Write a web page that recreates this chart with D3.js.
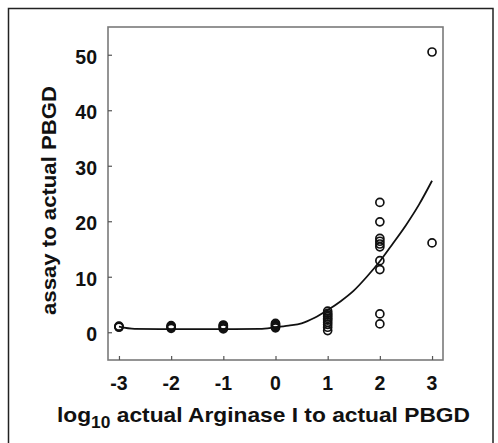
<!DOCTYPE html>
<html><head><meta charset="utf-8">
<script src="https://cdn.jsdelivr.net/npm/d3@7"></script>
<style>
html,body{margin:0;padding:0;background:#fff;}
text{font-family:"Liberation Sans",Arial,sans-serif;font-weight:bold;fill:#111;}
</style></head>
<body><svg id="c" width="498" height="443"></svg>
<script>
// tick values
const xTicks = [-3, -2, -1, 0, 1, 2, 3];
const yTicks = [0, 10, 20, 30, 40, 50];
// observed points: log10 ratio and assay/actual
const pointX = [-3, -3, -3,
  -2, -2, -2, -2,
  -1, -1, -1, -1, -1,
  0, 0, 0, 0, 0,
  1, 1, 1, 1, 1, 1, 1, 1, 1, 1,
  2, 2, 2, 2, 2, 2, 2, 2, 2, 2,
  3, 3];
const pointY = [0.9, 1.0, 1.1,
  0.7, 0.9, 1.0, 1.2,
  0.6, 0.8, 1.0, 1.2, 1.3,
  0.8, 1.0, 1.2, 1.4, 1.6,
  0.3, 0.9, 1.4, 1.8, 2.2, 2.5, 2.8, 3.1, 3.4, 3.8,
  23.4, 19.9, 16.9, 16.4, 15.9, 15.4, 12.9, 11.3, 3.3, 1.5,
  50.5, 16.1];
// fitted curve
const curveX = [-3, -2.7, -2, -1, -0.3, 0, 0.25, 0.5, 0.75, 1, 1.25, 1.5, 1.75, 2, 2.25, 2.5, 2.75, 3];
const curveY = [1.0, 0.6, 0.55, 0.55, 0.6, 0.9, 1.2, 1.6, 2.6, 4.0, 5.6, 7.5, 10.0, 12.8, 16.0, 19.3, 23.0, 27.3];

const svg = d3.select("#c");
const L = 108, T = 27, R = 443, B = 360;
const x = d3.scaleLinear().domain([-3.21, 3.21]).range([L, R]);
const y = d3.scaleLinear().domain([-5, 55]).range([B, T]);

// outer frame
svg.append("rect").attr("x", 8.5).attr("y", 8.5).attr("width", 484.5).attr("height", 460)
  .attr("fill", "none").attr("stroke", "#222").attr("stroke-width", 1.5);

// plot box
svg.append("rect").attr("x", L).attr("y", T).attr("width", R - L).attr("height", B - T)
  .attr("fill", "none").attr("stroke", "#7a7a7a").attr("stroke-width", 1.6);

// axes with inward ticks
const gx = svg.append("g").attr("transform", `translate(0,${B})`)
  .call(d3.axisTop(x).tickValues(xTicks).tickSize(4).tickFormat(""));
gx.select(".domain").remove();
gx.selectAll("line").attr("stroke", "#555").attr("stroke-width", 1.2);
const gy = svg.append("g").attr("transform", `translate(${L},0)`)
  .call(d3.axisRight(y).tickValues(yTicks).tickSize(4).tickFormat(""));
gy.select(".domain").remove();
gy.selectAll("line").attr("stroke", "#555").attr("stroke-width", 1.2);

// tick labels
svg.append("g").selectAll("text").data(xTicks).join("text")
  .attr("x", d => x(d)).attr("y", 390).attr("text-anchor", "middle")
  .attr("font-size", 19.5).text(d => d);
svg.append("g").selectAll("text").data(yTicks).join("text")
  .attr("x", 97).attr("y", d => y(d) + 2).attr("dy", "0.36em").attr("text-anchor", "end")
  .attr("font-size", 19.5).text(d => d);

// curve
const pts = curveX.map((v, i) => [v, curveY[i]]);
svg.append("path").datum(pts)
  .attr("d", d3.line().x(d => x(d[0])).y(d => y(d[1])).curve(d3.curveMonotoneX))
  .attr("fill", "none").attr("stroke", "#111").attr("stroke-width", 1.8);

// points
svg.append("g").selectAll("circle").data(pointX.map((v, i) => [v, pointY[i]])).join("circle")
  .attr("cx", d => x(d[0])).attr("cy", d => y(d[1])).attr("r", 4)
  .attr("fill", "none").attr("stroke", "#111").attr("stroke-width", 1.7);

// axis titles
const xl = svg.append("text").attr("x", 57).attr("y", 422).attr("text-anchor", "start")
  .attr("font-size", 21).attr("textLength", 413).attr("lengthAdjust", "spacingAndGlyphs");
xl.append("tspan").text("log");
xl.append("tspan").attr("font-size", 16).attr("dy", 6).text("10");
xl.append("tspan").attr("dy", -6).text(" actual Arginase I to actual PBGD");

svg.append("text").attr("transform", "translate(56,200.5) rotate(-90)")
  .attr("text-anchor", "middle").attr("font-size", 21)
  .attr("textLength", 229).attr("lengthAdjust", "spacingAndGlyphs").text("assay to actual PBGD");
</script></body></html>
